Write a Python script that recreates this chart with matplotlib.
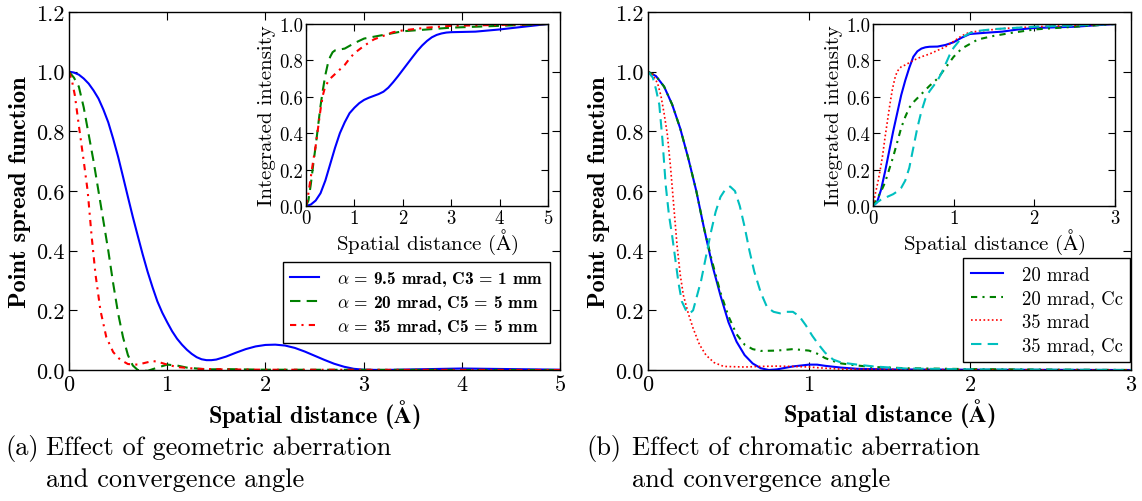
import matplotlib
matplotlib.use("Agg")
import matplotlib.pyplot as plt

plt.rcParams["font.family"] = "serif"
plt.rcParams["font.serif"] = ["cmr10"]
plt.rcParams["mathtext.fontset"] = "cm"
plt.rcParams["axes.formatter.use_mathtext"] = True
plt.rcParams["axes.linewidth"] = 1.0
plt.rcParams["xtick.direction"] = "in"
plt.rcParams["ytick.direction"] = "in"
plt.rcParams["xtick.top"] = True
plt.rcParams["ytick.right"] = True
plt.rcParams["xtick.major.size"] = 6
plt.rcParams["ytick.major.size"] = 6

BOLD = "cmb10"

# (a) geometric aberration: point spread function
geo_95_x = [0, 0.05, 0.1, 0.15, 0.2, 0.25, 0.3, 0.35, 0.4, 0.45, 0.5, 0.55, 0.6, 0.65,
            0.7, 0.75, 0.8, 0.85, 0.9, 0.95, 1.0, 1.05, 1.1, 1.15, 1.2, 1.25, 1.3,
            1.35, 1.4, 1.45, 1.5, 1.6, 1.7, 1.8, 1.9, 2.0, 2.1, 2.2, 2.3, 2.4, 2.5,
            2.6, 2.7, 2.8, 2.9, 3.0, 3.2, 3.5, 4.0, 4.5, 5.0]
geo_95_y = [1.0, 0.997, 0.99, 0.977, 0.96, 0.937, 0.91, 0.873, 0.83, 0.775, 0.715,
            0.648, 0.58, 0.513, 0.45, 0.388, 0.33, 0.278, 0.23, 0.192, 0.16, 0.13,
            0.105, 0.085, 0.068, 0.054, 0.043, 0.036, 0.033, 0.033, 0.035, 0.045,
            0.058, 0.07, 0.079, 0.084, 0.085, 0.082, 0.074, 0.062, 0.048, 0.034, 0.021,
            0.011, 0.004, 0.001, 0.0, 0.002, 0.005, 0.003, 0.001]
geo_20_x = [0, 0.05, 0.1, 0.15, 0.2, 0.25, 0.3, 0.35, 0.4, 0.45, 0.5, 0.55, 0.6, 0.65,
            0.7, 0.8, 0.9, 1.0, 1.1, 1.2, 1.4, 1.6, 2.0, 5.0]
geo_20_y = [1.0, 0.98, 0.95, 0.88, 0.79, 0.7, 0.6, 0.5, 0.4, 0.29, 0.19, 0.11, 0.05,
            0.015, 0.0, -0.003, 0.008, 0.018, 0.015, 0.008, 0.002, 0.003, 0.001, 0.0]
geo_35_x = [0, 0.03, 0.06, 0.1, 0.15, 0.19, 0.23, 0.27, 0.32, 0.38, 0.45, 0.52, 0.6,
            0.7, 0.8, 0.85, 0.9, 1.0, 1.1, 1.3, 1.6, 2.0, 5.0]
geo_35_y = [1.0, 0.97, 0.92, 0.82, 0.7, 0.6, 0.45, 0.32, 0.2, 0.11, 0.06, 0.035, 0.02,
            0.018, 0.026, 0.03, 0.028, 0.018, 0.01, 0.004, 0.002, 0.001, 0.0]

# (a) integrated intensity
int_95_x = [0, 0.1, 0.2, 0.3, 0.4, 0.5, 0.6, 0.7, 0.8, 0.9, 1.0, 1.1, 1.2, 1.3, 1.4,
            1.5, 1.6, 1.7, 1.8, 1.9, 2.0, 2.1, 2.2, 2.3, 2.4, 2.5, 2.6, 2.7, 2.8, 2.9,
            3.0, 3.5, 4.0, 4.5, 5.0]
int_95_y = [0, 0.008, 0.03, 0.07, 0.14, 0.23, 0.32, 0.4, 0.46, 0.51, 0.54, 0.565, 0.583,
            0.595, 0.605, 0.615, 0.628, 0.65, 0.68, 0.713, 0.748, 0.783, 0.818, 0.852,
            0.882, 0.907, 0.927, 0.94, 0.948, 0.953, 0.955, 0.958, 0.97, 0.985, 1.0]
int_20_x = [0, 0.05, 0.1, 0.15, 0.2, 0.25, 0.3, 0.35, 0.4, 0.45, 0.5, 0.55, 0.6, 0.7,
            0.8, 0.9, 1.0, 1.2, 1.4, 1.6, 2.0, 2.5, 3.0, 4.0, 5.0]
int_20_y = [0, 0.03, 0.12, 0.23, 0.33, 0.44, 0.55, 0.64, 0.72, 0.78, 0.82, 0.845, 0.855,
            0.86, 0.865, 0.88, 0.895, 0.92, 0.93, 0.94, 0.96, 0.97, 0.98, 0.99, 1.0]
int_35_x = [0, 0.05, 0.1, 0.15, 0.2, 0.25, 0.3, 0.35, 0.4, 0.5, 0.6, 0.7, 0.8, 0.9, 1.0,
            1.2, 1.4, 1.6, 1.8, 2.0, 2.5, 3.0, 4.0, 5.0]
int_35_y = [0, 0.07, 0.16, 0.25, 0.33, 0.43, 0.53, 0.61, 0.66, 0.7, 0.725, 0.75, 0.775,
            0.81, 0.84, 0.88, 0.915, 0.935, 0.955, 0.965, 0.98, 0.99, 0.995, 1.0]

# (b) chromatic aberration: point spread function
chr_20_x = [0, 0.05, 0.1, 0.15, 0.2, 0.25, 0.3, 0.35, 0.4, 0.45, 0.5, 0.55, 0.6, 0.65,
            0.7, 0.75, 0.8, 0.9, 1.0, 1.05, 1.1, 1.2, 1.3, 1.5, 2.0, 3.0]
chr_20_y = [1.0, 0.985, 0.95, 0.89, 0.81, 0.71, 0.6, 0.47, 0.35, 0.25, 0.16, 0.095,
            0.05, 0.022, 0.006, 0.0, 0.002, 0.012, 0.018, 0.018, 0.014, 0.008, 0.004,
            0.002, 0.001, 0.0]
chr_20cc_x = [0, 0.05, 0.1, 0.15, 0.2, 0.25, 0.3, 0.35, 0.4, 0.45, 0.5, 0.55, 0.6, 0.65,
              0.7, 0.8, 0.9, 1.0, 1.05, 1.1, 1.15, 1.2, 1.3, 1.4, 1.6, 2.0, 3.0]
chr_20cc_y = [1.0, 0.985, 0.95, 0.89, 0.81, 0.71, 0.6, 0.47, 0.36, 0.26, 0.18, 0.12,
              0.085, 0.07, 0.064, 0.065, 0.07, 0.065, 0.055, 0.04, 0.03, 0.022, 0.015,
              0.01, 0.006, 0.003, 0.0]
chr_35_x = [0, 0.03, 0.06, 0.08, 0.1, 0.12, 0.14, 0.16, 0.18, 0.2, 0.22, 0.25, 0.28,
            0.32, 0.36, 0.41, 0.47, 0.6, 0.7, 0.8, 0.9, 1.0, 1.1, 1.2, 1.5, 2.0, 3.0]
chr_35_y = [1.0, 0.99, 0.96, 0.92, 0.86, 0.79, 0.68, 0.55, 0.42, 0.32, 0.25, 0.19, 0.14,
            0.085, 0.05, 0.025, 0.012, 0.01, 0.012, 0.013, 0.012, 0.01, 0.006, 0.003,
            0.002, 0.001, 0.0]
chr_35cc_x = [0, 0.03, 0.05, 0.07, 0.09, 0.11, 0.13, 0.15, 0.17, 0.19, 0.21, 0.24, 0.26,
              0.28, 0.3, 0.33, 0.36, 0.39, 0.42, 0.45, 0.48, 0.51, 0.54, 0.57, 0.6, 0.63,
              0.66, 0.7, 0.74, 0.78, 0.82, 0.86, 0.9, 0.94, 0.98, 1.02, 1.06, 1.1, 1.15,
              1.2, 1.3, 1.4, 1.6, 2.0, 3.0]
chr_35cc_y = [1.0, 0.98, 0.94, 0.89, 0.77, 0.62, 0.52, 0.45, 0.37, 0.29, 0.23, 0.195,
              0.19, 0.2, 0.24, 0.3, 0.38, 0.46, 0.53, 0.58, 0.605, 0.615, 0.6, 0.55, 0.48,
              0.4, 0.33, 0.26, 0.21, 0.195, 0.19, 0.195, 0.195, 0.18, 0.15, 0.115, 0.085,
              0.058, 0.035, 0.025, 0.018, 0.012, 0.005, 0.002, 0.0]

# (b) integrated intensity
cint_20_x = [0, 0.05, 0.1, 0.15, 0.2, 0.25, 0.3, 0.35, 0.4, 0.45, 0.5, 0.55, 0.6, 0.65,
             0.7, 0.8, 0.9, 1.0, 1.1, 1.2, 1.4, 1.6, 1.8, 2.0, 2.5, 3.0]
cint_20_y = [0, 0.02, 0.09, 0.19, 0.3, 0.41, 0.51, 0.61, 0.69, 0.76, 0.82, 0.85, 0.865,
             0.872, 0.875, 0.876, 0.885, 0.9, 0.925, 0.945, 0.952, 0.958, 0.97, 0.978,
             0.985, 1.0]
cint_20cc_x = [0, 0.05, 0.1, 0.15, 0.2, 0.25, 0.3, 0.35, 0.4, 0.45, 0.5, 0.6, 0.7, 0.8,
               0.9, 1.0, 1.1, 1.2, 1.3, 1.5, 1.7, 2.0, 2.5, 3.0]
cint_20cc_y = [0, 0.04, 0.08, 0.13, 0.2, 0.27, 0.35, 0.43, 0.49, 0.54, 0.57, 0.615,
               0.66, 0.7, 0.76, 0.82, 0.865, 0.89, 0.915, 0.935, 0.95, 0.97, 0.985, 1.0]
cint_35_x = [0, 0.03, 0.06, 0.09, 0.12, 0.15, 0.18, 0.21, 0.24, 0.27, 0.3, 0.35, 0.4,
             0.5, 0.6, 0.7, 0.8, 0.9, 1.0, 1.1, 1.2, 1.4, 1.6, 2.0, 2.5, 3.0]
cint_35_y = [0, 0.07, 0.13, 0.2, 0.28, 0.38, 0.47, 0.56, 0.64, 0.7, 0.74, 0.765, 0.775,
             0.8, 0.82, 0.835, 0.855, 0.875, 0.905, 0.935, 0.955, 0.965, 0.975, 0.985,
             0.992, 1.0]
cint_35cc_x = [0, 0.05, 0.1, 0.15, 0.2, 0.25, 0.3, 0.35, 0.4, 0.45, 0.5, 0.55, 0.6, 0.65,
               0.7, 0.75, 0.8, 0.85, 0.9, 0.95, 1.0, 1.1, 1.2, 1.3, 1.5, 2.0, 2.5, 3.0]
cint_35cc_y = [0, 0.02, 0.035, 0.045, 0.055, 0.065, 0.08, 0.1, 0.14, 0.21, 0.32, 0.43,
               0.52, 0.59, 0.63, 0.66, 0.69, 0.73, 0.78, 0.83, 0.87, 0.925, 0.95, 0.962,
               0.972, 0.985, 0.992, 1.0]

legend_a = [r"$\alpha$ = 9.5 mrad, C3 = 1 mm",
            r"$\alpha$ = 20 mrad, C5 = 5 mm",
            r"$\alpha$ = 35 mrad, C5 = 5 mm"]
legend_b = ["20 mrad", "20 mrad, Cc", "35 mrad", "35 mrad, Cc"]

GREEN = (0, 0.5, 0)
CYAN = (0, 0.75, 0.75)
DASH = (5, 3)
DASHDOT = (3, 2.5, 1, 2.5)
DOT = (1, 1.5)

W, H = 1142, 502
fig = plt.figure(figsize=(W / 100, H / 100), dpi=100)


def fig_rect(x0, y0, x1, y1):
    # pixel box (top-left origin) -> figure fraction rect
    return [x0 / W, 1 - y1 / H, (x1 - x0) / W, (y1 - y0) / H]


def style_main(ax, xmax):
    ax.set_xlim(0, xmax)
    ax.set_ylim(0, 1.2)
    ax.set_xticks(range(0, xmax + 1))
    ax.set_yticks([0, 0.2, 0.4, 0.6, 0.8, 1.0, 1.2])
    ax.set_yticklabels(["0.0", "0.2", "0.4", "0.6", "0.8", "1.0", "1.2"])
    ax.tick_params(labelsize=16, pad=3)
    ax.set_xlabel(r"Spatial distance ($\mathbf{\AA}$)", family=BOLD, fontsize=17.5,
                  labelpad=2)
    ax.set_ylabel("Point spread function", family=BOLD, fontsize=17.5, labelpad=4)


def style_inset(ax, xmax):
    ax.set_xlim(0, xmax)
    ax.set_ylim(0, 1.0)
    ax.set_xticks(range(0, xmax + 1))
    ax.set_yticks([0, 0.2, 0.4, 0.6, 0.8, 1.0])
    ax.set_yticklabels(["0.0", "0.2", "0.4", "0.6", "0.8", "1.0"])
    ax.tick_params(labelsize=13.5, pad=2, length=5)
    ax.set_xlabel(r"Spatial distance ($\mathrm{\AA}$)", fontsize=15, labelpad=0)
    ax.set_ylabel("Integrated intensity", fontsize=15, labelpad=2)


# ---- panel (a) ----
ax_a = fig.add_axes(fig_rect(69, 13, 560, 371))
ax_a.plot(geo_95_x, geo_95_y, color="b", lw=1.5, label=legend_a[0])
ax_a.plot(geo_20_x, geo_20_y, color=GREEN, lw=1.5, dashes=DASH, label=legend_a[1])
ax_a.plot(geo_35_x, geo_35_y, color="r", lw=1.5, dashes=DASHDOT, label=legend_a[2])
style_main(ax_a, 5)
ax_a.legend(loc="lower right", bbox_to_anchor=(550 / W, 1 - 344 / H),
            bbox_transform=fig.transFigure, fancybox=False, framealpha=1,
            edgecolor="black", prop={"family": BOLD, "size": 12.5}, borderaxespad=0,
            handlelength=1.7, handletextpad=1.0, labelspacing=0.3)

in_a = fig.add_axes(fig_rect(306, 25, 548, 207))
in_a.plot(int_95_x, int_95_y, color="b", lw=1.5)
in_a.plot(int_20_x, int_20_y, color=GREEN, lw=1.5, dashes=DASH)
in_a.plot(int_35_x, int_35_y, color="r", lw=1.5, dashes=DASHDOT)
style_inset(in_a, 5)

# ---- panel (b) ----
ax_b = fig.add_axes(fig_rect(648, 13, 1131, 371))
ax_b.plot(chr_20_x, chr_20_y, color="b", lw=1.5, label=legend_b[0])
ax_b.plot(chr_20cc_x, chr_20cc_y, color=GREEN, lw=1.5, dashes=DASHDOT,
          label=legend_b[1])
ax_b.plot(chr_35_x, chr_35_y, color="r", lw=1.2, dashes=DOT, label=legend_b[2])
ax_b.plot(chr_35cc_x, chr_35cc_y, color=CYAN, lw=1.5, dashes=DASH, label=legend_b[3])
style_main(ax_b, 3)
ax_b.legend(loc="lower right", bbox_to_anchor=(1130 / W, 1 - 363 / H),
            bbox_transform=fig.transFigure, fancybox=False, framealpha=1,
            edgecolor="black", prop={"size": 13.5}, borderaxespad=0,
            handlelength=1.7, handletextpad=1.0, labelspacing=0.3)

in_b = fig.add_axes(fig_rect(873, 25, 1115, 207))
in_b.plot(cint_20_x, cint_20_y, color="b", lw=1.5)
in_b.plot(cint_20cc_x, cint_20cc_y, color=GREEN, lw=1.5, dashes=DASHDOT)
in_b.plot(cint_35_x, cint_35_y, color="r", lw=1.2, dashes=DOT)
in_b.plot(cint_35cc_x, cint_35cc_y, color=CYAN, lw=1.5, dashes=DASH)
style_inset(in_b, 3)

# ---- sub-captions ----
cap = dict(fontsize=19, va="baseline", ha="left")
fig.text(5 / W, 1 - 455 / H, "(a)", **cap)
fig.text(46 / W, 1 - 455 / H, "Effect of geometric aberration", **cap)
fig.text(46 / W, 1 - 487 / H, "and convergence angle", **cap)
fig.text(586 / W, 1 - 455 / H, "(b)", **cap)
fig.text(632 / W, 1 - 455 / H, "Effect of chromatic aberration", **cap)
fig.text(632 / W, 1 - 487 / H, "and convergence angle", **cap)

fig.savefig("out.png", dpi=100)
